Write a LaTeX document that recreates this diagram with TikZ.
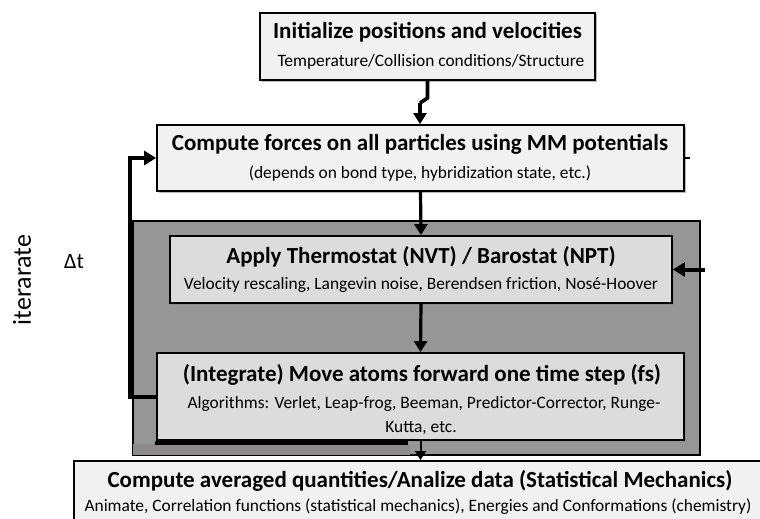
\documentclass[tikz,border=0pt]{standalone}
\usepackage{fontspec}
\setmainfont{Carlito}
\usetikzlibrary{arrows.meta,shadows}
\definecolor{boxlight}{HTML}{F1F1F1}
\definecolor{boxmid}{HTML}{DCDCDC}
\definecolor{darkpanel}{HTML}{969696}
\definecolor{strip}{HTML}{8C8A8A}
\tikzset{
  box/.style={draw=black, line width=1.8pt, inner sep=0pt,
    drop shadow={shadow xshift=1.5pt, shadow yshift=-1.5pt, fill=black!45, opacity=0.6}},
  ttl/.style={inner sep=0pt, font=\fontsize{23}{27}\selectfont\bfseries},
  sbt/.style={inner sep=0pt, font=\fontsize{17.4}{20}\selectfont},
  conn/.style={line width=3.2pt, -{Triangle[length=11pt,width=13pt]}},
  plain/.style={line width=3.6pt},
}
\begin{document}
\begin{tikzpicture}[x=1pt,y=-1pt]
\useasboundingbox (0,0) rectangle (760,519);
\clip (0,0) rectangle (760,519);
% dark panel
\fill[darkpanel, draw=black, line width=1.5pt] (133,221) rectangle (700,455);
\fill[strip] (133,444) rectangle (410,455);
% boxes
\node[box, fill=boxlight, minimum width=335pt, minimum height=67pt] (init) at (427.5,46.5) {};
\node[ttl] (initT) at (427.5,32) {Initialize positions and velocities};
\node[sbt] (initS) at (431,62) {Temperature/Collision conditions/Structure};

\node[box, fill=boxlight, minimum width=527pt, minimum height=66pt] (forces) at (420.5,158) {};
\node[ttl] (forcesT) at (420,144) {Compute forces on all particles using MM potentials};
\node[sbt] (forcesS) at (420,174) {(depends on bond type, hybridization state, etc.)};

\node[box, fill=boxmid, minimum width=502pt, minimum height=67pt] (thermo) at (421,269.5) {};
\node[ttl] (thermoT) at (421,257) {Apply Thermostat (NVT) / Barostat (NPT)};
\node[sbt] (thermoS) at (421,285) {Velocity rescaling, Langevin noise, Berendsen friction, Nos\'e-Hoover};

\node[box, fill=boxmid, minimum width=527pt, minimum height=87pt] (integ) at (420.5,396.5) {};
\node[ttl] (integT) at (422,375) {(Integrate) Move atoms forward one time step (fs)};
\node[sbt] (integS1) at (424,404) {Algorithms: Verlet, Leap-frog, Beeman, Predictor-Corrector, Runge-};
\node[sbt] (integS2) at (421,428) {Kutta, etc.};
\fill[black] (155,441) rectangle (408,445);

\node[box, fill=boxlight, minimum width=720pt, minimum height=80pt, anchor=north west] (stat) at (73,460) {};
\node[ttl] (statT) at (420,481) {Compute averaged quantities/Analize data (Statistical Mechanics)};
\node[sbt] (statS) at (418,507) {Animate, Correlation functions (statistical mechanics), Energies and Conformations (chemistry)};
% side labels
\node[rotate=90, inner sep=0pt, font=\fontsize{26}{30}\selectfont] (iter) at (22,280) {iterarate};
\node[inner sep=0pt, font=\fontsize{22}{26}\selectfont] (dt) at (74,262) {Δt};
% connectors
\coordinate (j1) at (init.south |- 0,98);
\coordinate (j2) at (420,103);
\draw[plain] (init.south) -- (j1) -- (j2);
\draw[conn] (j2) -- (forces.north -| j2);
\draw[conn] (forces.south) -- (thermo.north);
\draw[conn] (thermo.south) -- (integ.north);
\draw[line width=2pt, -{Triangle[length=9pt,width=11pt]}] (integ.south) -- (stat.north -| integ.south);
\coordinate (fb) at (130,0);
\draw[line width=4pt, -{Triangle[length=12pt,width=14pt]}] (integ.west) -- (integ.west -| fb) |- (forces.west);
\coordinate (stubend) at (690,158);
\draw[line width=1.5pt] (forces.east) -- (stubend);
\coordinate (thin) at (705,269.5);
\draw[line width=4pt, -{Triangle[length=12pt,width=14pt]}] (thin) -- (thermo.east);
\end{tikzpicture}
\end{document}
